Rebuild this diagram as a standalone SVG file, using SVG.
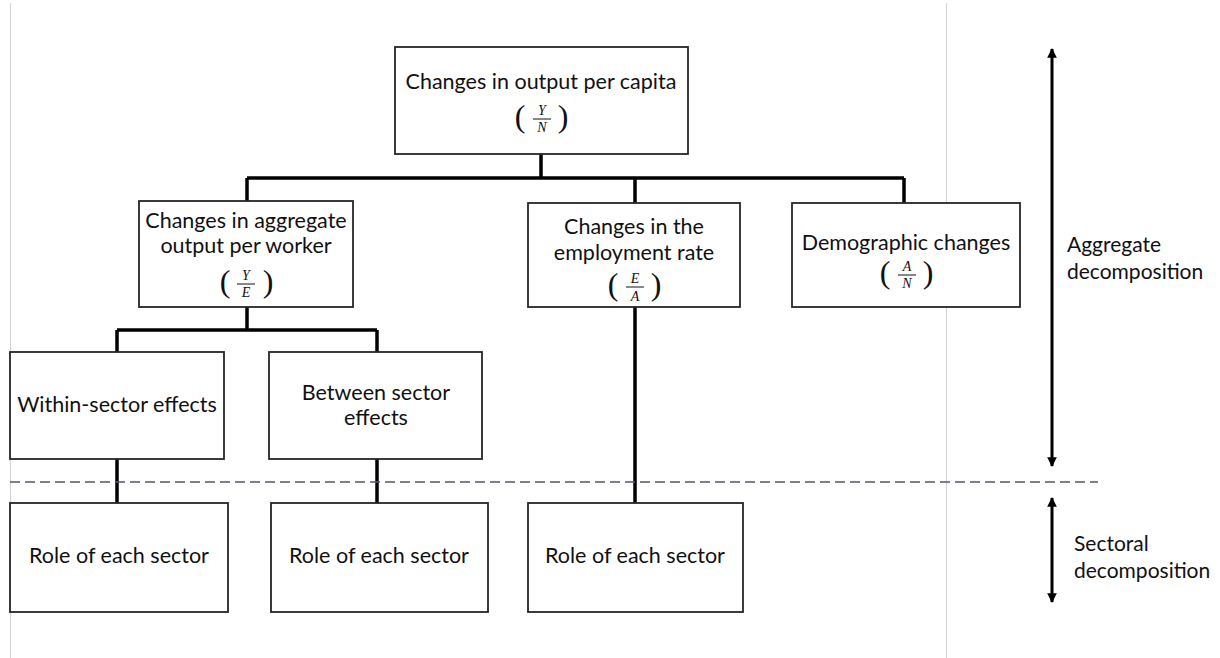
<svg xmlns="http://www.w3.org/2000/svg" width="1220" height="658" viewBox="0 0 1220 658">
<defs>
<style>
.box{fill:#fff;stroke:#262626;stroke-width:1.8}
.t{font-family:Lato,"Open Sans",sans-serif;font-size:21.5px;fill:#111;text-anchor:middle}
.lbl{font-family:Lato,"Open Sans",sans-serif;font-size:21px;fill:#111}
.v{font-family:"Liberation Serif",serif;font-style:italic;font-size:14px;fill:#111;text-anchor:middle}
.p{font-family:"Liberation Serif",serif;font-size:32px;fill:#111;text-anchor:middle}
.bar{stroke:#111;stroke-width:1}
.c{stroke:#000;stroke-width:3.5;fill:none}
.grid{stroke:#d4d4d4;stroke-width:1.2}
</style>
<marker id="ah" viewBox="0 0 10 10" refX="9" refY="5" markerWidth="3.2" markerHeight="3.2" orient="auto-start-reverse">
<path d="M0,0 L10,5 L0,10 z" fill="#000"/>
</marker>
</defs>
<rect width="1220" height="658" fill="#fff"/>
<line class="grid" x1="10.5" y1="3" x2="10.5" y2="658"/>
<line class="grid" x1="946.5" y1="3" x2="946.5" y2="658"/>

<g id="connectors">
<path class="c" d="M541,154 V178 M247,178 H904 M247,178 V201 M635,178 V203 M904,178 V203"/>
<path class="c" d="M247,307 V330 M117,330 H377 M117,330 V352 M377,330 V352"/>
<path class="c" d="M117,459 V503 M377,459 V503 M635,307 V503"/>
<line x1="10" y1="482" x2="1098" y2="482" stroke="#55556a" stroke-width="1.5" stroke-dasharray="10,5"/>
<line x1="1052" y1="49" x2="1052" y2="466" stroke="#000" stroke-width="3" marker-start="url(#ah)" marker-end="url(#ah)"/>
<line x1="1052" y1="498" x2="1052" y2="602" stroke="#000" stroke-width="3" marker-start="url(#ah)" marker-end="url(#ah)"/>
</g>

<g id="n-top">
<rect class="box" x="395" y="47" width="293" height="107"/>
<text class="t" x="541" y="89">Changes in output per capita</text>
<text class="p" x="520" y="127">(</text><text class="p" x="563" y="127">)</text>
<text class="v" x="542" y="115">Y</text><line class="bar" x1="533" y1="119" x2="551" y2="119"/><text class="v" x="542" y="132">N</text>
</g>

<g id="n-agg">
<rect class="box" x="139" y="201" width="214" height="106"/>
<text class="t" x="246" y="228">Changes in aggregate</text>
<text class="t" x="246" y="253">output per worker</text>
<text class="p" x="225" y="292">(</text><text class="p" x="268" y="292">)</text>
<text class="v" x="246" y="280">Y</text><line class="bar" x1="237" y1="284" x2="255" y2="284"/><text class="v" x="246" y="297">E</text>
</g>

<g id="n-emp">
<rect class="box" x="528" y="203" width="212" height="104"/>
<text class="t" x="634" y="234">Changes in the</text>
<text class="t" x="634" y="260">employment rate</text>
<text class="p" x="613" y="295">(</text><text class="p" x="656" y="295">)</text>
<text class="v" x="635" y="283">E</text><line class="bar" x1="626" y1="287" x2="644" y2="287"/><text class="v" x="635" y="301">A</text>
</g>

<g id="n-demo">
<rect class="box" x="792" y="203" width="228" height="104"/>
<text class="t" x="906" y="250">Demographic changes</text>
<text class="p" x="885" y="283">(</text><text class="p" x="928" y="283">)</text>
<text class="v" x="907" y="271">A</text><line class="bar" x1="898" y1="275" x2="916" y2="275"/><text class="v" x="907" y="288">N</text>
</g>

<g id="n-within">
<rect class="box" x="10" y="352" width="214" height="107"/>
<text class="t" x="117" y="412">Within-sector effects</text>
</g>

<g id="n-between">
<rect class="box" x="269" y="352" width="213" height="107"/>
<text class="t" x="376" y="400">Between sector</text>
<text class="t" x="376" y="425">effects</text>
</g>

<g id="n-role1">
<rect class="box" x="10" y="503" width="218" height="109"/>
<text class="t" x="119" y="563">Role of each sector</text>
</g>
<g id="n-role2">
<rect class="box" x="271" y="503" width="217" height="109"/>
<text class="t" x="379" y="563">Role of each sector</text>
</g>
<g id="n-role3">
<rect class="box" x="528" y="503" width="215" height="109"/>
<text class="t" x="635" y="563">Role of each sector</text>
</g>

<g id="labels">
<text class="lbl" x="1067" y="252">Aggregate</text>
<text class="lbl" x="1067" y="279">decomposition</text>
<text class="lbl" x="1074" y="551">Sectoral</text>
<text class="lbl" x="1074" y="578">decomposition</text>
</g>
</svg>
